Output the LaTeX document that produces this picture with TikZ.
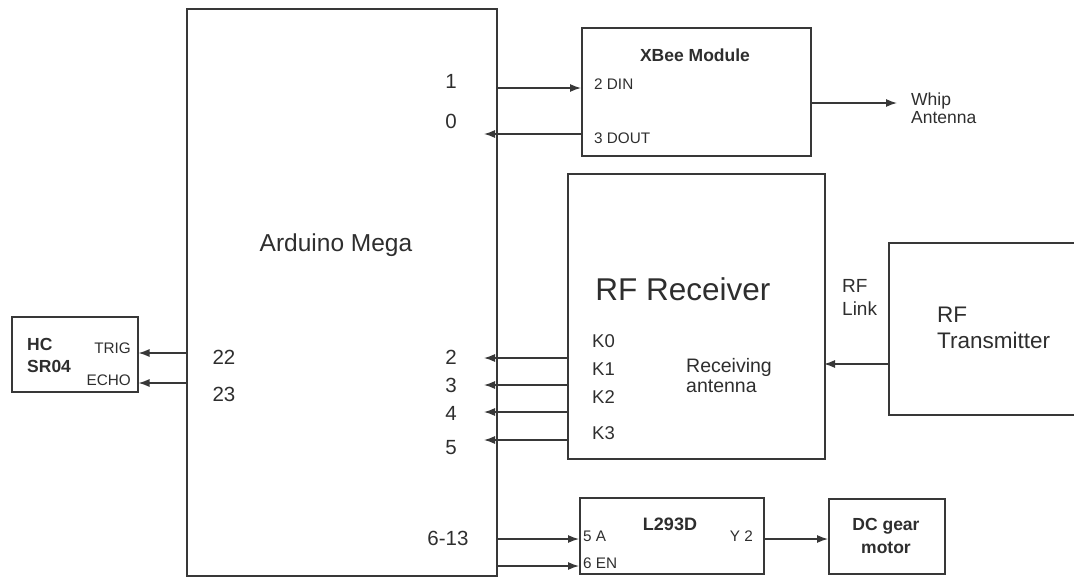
\documentclass[tikz,border=0pt]{standalone}
\usepackage{fontspec}
\setmainfont{Liberation Sans}
\usetikzlibrary{arrows.meta}
\begin{document}
\begin{tikzpicture}[x=1pt,y=-1pt,
  box/.style={draw=black!78,line width=1.5pt},
  arr/.style={draw=black!78,line width=1.3pt,-{Latex[length=11pt,width=8pt]}},
  lab/.style={text=black!82,inner sep=0pt},
  pin/.style={lab,font=\fontsize{20.5}{20.5}\selectfont},
  kpin/.style={lab,font=\fontsize{18.5}{18.5}\selectfont},
  small/.style={lab,font=\fontsize{15.3}{15.3}\selectfont},
  title/.style={lab,font=\bfseries\fontsize{17.5}{23}\selectfont,align=center}]
\useasboundingbox (0,0) rectangle (1074,576);
% boxes
\node[box,anchor=north west,minimum width=310pt,minimum height=567pt,inner sep=0pt] (ard) at (186,8) {};
\node[box,anchor=north west,minimum width=229pt,minimum height=128pt,inner sep=0pt] (xb) at (581,27) {};
\node[box,anchor=north west,minimum width=257pt,minimum height=285pt,inner sep=0pt] (rx) at (567,173) {};
\node[box,anchor=north west,minimum width=200pt,minimum height=172pt,inner sep=0pt] (tx) at (888,242) {};
\node[box,anchor=north west,minimum width=126pt,minimum height=75pt,inner sep=0pt] (hc) at (11,316) {};
\node[box,anchor=north west,minimum width=184pt,minimum height=76pt,inner sep=0pt] (drv) at (579,497) {};
\node[box,anchor=north west,minimum width=116pt,minimum height=75pt,inner sep=0pt] (mot) at (828,498) {};
% texts (multi-line nodes: base anchor = baseline of last line)
\node[lab,font=\fontsize{24.5}{24.5}\selectfont] (tard) at (336,245) {Arduino Mega};
\node[lab,font=\bfseries\fontsize{17.5}{17.5}\selectfont] (txb) at (695,55) {XBee Module};
\node[small,anchor=base west] (din) at (594,89) {2 DIN};
\node[small,anchor=base west] (dout) at (594,143) {3 DOUT};
\node[lab,font=\fontsize{17.5}{18}\selectfont,align=left,anchor=base west] (whip) at (911,123) {Whip\\Antenna};
\node[lab,font=\fontsize{31.5}{31.5}\selectfont] (trx) at (683,289) {RF Receiver};
\node[lab,font=\fontsize{19.5}{20}\selectfont,align=left,anchor=base west] (rant) at (686,392) {Receiving\\antenna};
\node[kpin,anchor=west] (k0) at (592,341) {K0};
\node[kpin,anchor=west] (k1) at (592,369) {K1};
\node[kpin,anchor=west] (k2) at (592,397) {K2};
\node[kpin,anchor=west] (k3) at (592,433) {K3};
\node[lab,font=\fontsize{19}{23}\selectfont,align=left,anchor=base west] (link) at (842,315) {RF\\Link};
\node[lab,font=\fontsize{22.5}{26}\selectfont,align=left,anchor=base west] (ttx) at (937,348) {RF\\Transmitter};
\node[title,font=\bfseries\fontsize{17.5}{22}\selectfont,align=left,anchor=base west] (thc) at (27,372) {HC\\SR04};
\node[small,anchor=base east] (trig) at (131,353) {TRIG};
\node[small,anchor=base east] (echo) at (131,385) {ECHO};
\node[pin] (n22) at (224,357) {22};
\node[pin] (n23) at (224,394) {23};
\node[pin] (n1) at (451,81) {1};
\node[pin] (n0) at (451,121) {0};
\node[pin] (n2) at (451,357) {2};
\node[pin] (n3) at (451,385) {3};
\node[pin] (n4) at (451,413) {4};
\node[pin] (n5) at (451,448) {5};
\node[pin] (n613) at (448,538) {6-13};
\node[lab,font=\bfseries\fontsize{18}{18}\selectfont,anchor=base] (tdrv) at (670,530) {L293D};
\node[small,anchor=base west] (pa) at (583,541) {5 A};
\node[small,anchor=base west] (pen) at (583,568) {6 EN};
\node[small,anchor=base east] (py) at (753,541) {Y 2};
\node[title,anchor=base] (tmot) at (886,553) {DC gear\\motor};
% pin coordinates
\coordinate (a1) at (496,88);
\coordinate (a0) at (484,134);
\coordinate (w) at (897,103);
\coordinate (a2) at (484,358);
\coordinate (a3) at (484,385);
\coordinate (a4) at (484,412);
\coordinate (a5) at (484,440);
\coordinate (ra) at (824,364);
\coordinate (a22) at (186,353);
\coordinate (a23) at (186,383);
\coordinate (a6) at (496,539);
\coordinate (a7) at (496,566);
% connectors
\draw[arr] (a1) -- (xb.west |- a1);
\draw[arr] (xb.west |- a0) -- (a0);
\draw[arr] (xb.east |- w) -- (w);
\draw[arr] (rx.west |- a2) -- (a2);
\draw[arr] (rx.west |- a3) -- (a3);
\draw[arr] (rx.west |- a4) -- (a4);
\draw[arr] (rx.west |- a5) -- (a5);
\draw[arr] (tx.west |- ra) -- (ra);
\draw[arr] (a22) -- (hc.east |- a22);
\draw[arr] (a23) -- (hc.east |- a23);
\draw[arr] (a6) -- (drv.west |- a6);
\draw[arr] (a7) -- (drv.west |- a7);
\draw[arr] (drv.east |- a6) -- (mot.west |- a6);
\end{tikzpicture}
\end{document}
